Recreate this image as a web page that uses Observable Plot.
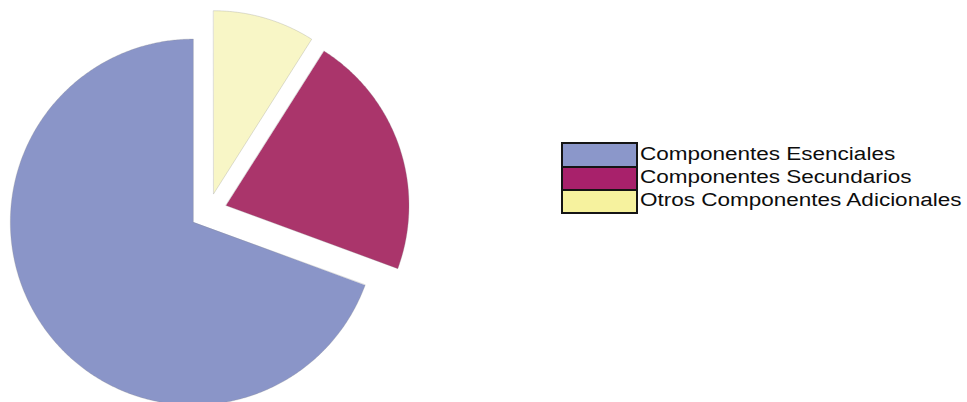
<!DOCTYPE html>
<html>
<head>
<meta charset="utf-8">
<script src="https://cdn.jsdelivr.net/npm/d3@7"></script>
<script src="https://cdn.jsdelivr.net/npm/@observablehq/plot@0.6"></script>
<style>
  html, body { margin: 0; padding: 0; background: #fff; }
  #wrap { position: relative; width: 967px; height: 402px; overflow: hidden; }
  #legend { position: absolute; left: 561px; top: 142px; }
  #swatches { position: absolute; left: 0; top: 0; width: 73px; border: 2px solid #151515; background: #151515; }
  .sw { width: 73px; }
  #labels { position: absolute; left: 79px; top: 1px; font-family: "Liberation Sans", Arial, sans-serif; font-size: 18px; line-height: 23px; color: #0d0d0d; white-space: nowrap; }
  .lb { transform: scaleX(1.25); transform-origin: 0 50%; }
</style>
</head>
<body>
<div id="wrap"><div id="legend"><div id="swatches"></div><div id="labels"></div></div></div>
<script>
const labels = ["Componentes Esenciales", "Componentes Secundarios", "Otros Componentes Adicionales"];
const values = [69.4, 21.6, 9.0];
const sliceColors = ["#8A95C8", "#AA356B", "#F8F6C6"];
const legendColors = ["#8B97CA", "#A8216B", "#F6F29E"];

const explode = 0.101;
const arcs = d3.pie().sort(null).startAngle(0).endAngle(-2 * Math.PI)(values);
const pts = [];
arcs.forEach((a, i) => {
  const mid = (a.startAngle + a.endAngle) / 2;
  const ox = explode * Math.sin(mid), oy = explode * Math.cos(mid);
  pts.push({label: labels[i], x: ox, y: oy});
  const n = Math.max(8, Math.ceil(Math.abs(a.endAngle - a.startAngle) / (Math.PI / 360)));
  for (let k = 0; k <= n; k++) {
    const t = a.startAngle + (a.endAngle - a.startAngle) * k / n;
    pts.push({label: labels[i], x: ox + Math.sin(t), y: oy + Math.cos(t)});
  }
});

const chart = Plot.plot({
  width: 967,
  height: 402,
  marginLeft: 25,
  marginRight: 576,
  marginTop: 28,
  marginBottom: 8,
  x: {domain: [-1, 1], axis: null},
  y: {domain: [-1, 1], axis: null},
  color: {domain: labels, range: sliceColors},
  marks: [
    Plot.line(pts, {x: "x", y: "y", z: "label", fill: "label", stroke: "#8a8a8a", strokeOpacity: 0.35, strokeWidth: 0.8, curve: "linear-closed"})
  ]
});
chart.style.position = "absolute";
chart.style.left = "0";
chart.style.top = "0";
document.getElementById("wrap").prepend(chart);

const sw = document.getElementById("swatches");
const lb = document.getElementById("labels");
const hs = [22, 21, 21];
labels.forEach((l, i) => {
  const d = document.createElement("div");
  d.className = "sw";
  d.style.height = hs[i] + "px";
  d.style.background = legendColors[i];
  if (i > 0) d.style.marginTop = "2px";
  sw.appendChild(d);
  const t = document.createElement("div");
  t.className = "lb";
  t.textContent = l;
  lb.appendChild(t);
});
</script>
</body>
</html>
